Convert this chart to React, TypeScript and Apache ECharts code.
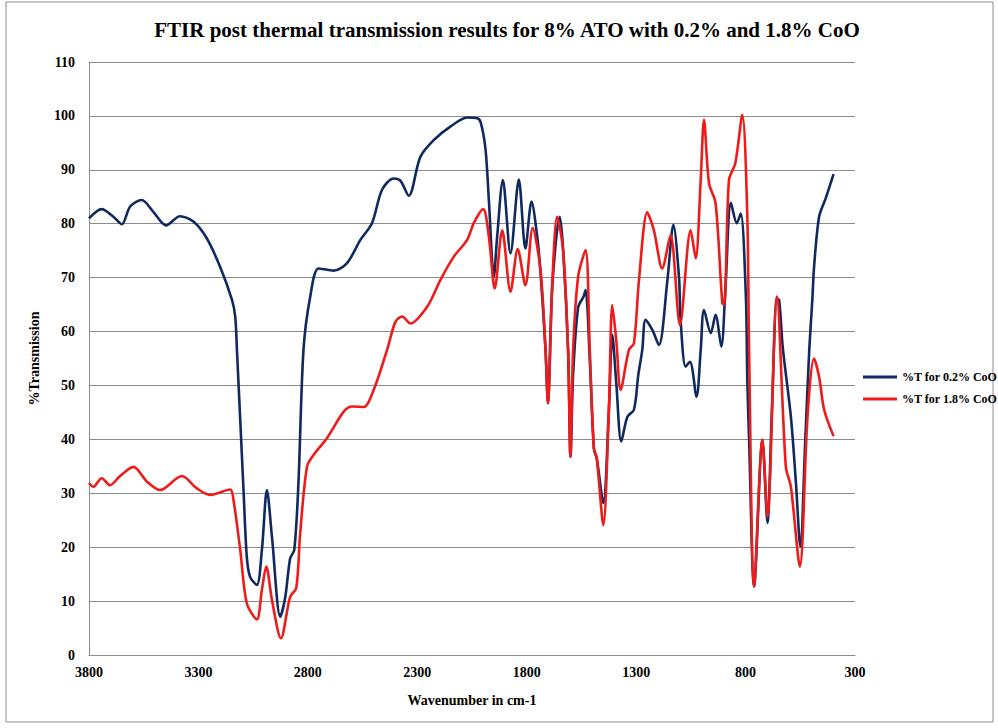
import React, { useEffect, useRef } from "react";
import * as echarts from "echarts";

const xTicks = [3800, 3300, 2800, 2300, 1800, 1300, 800, 300];
const yTicks = [0, 10, 20, 30, 40, 50, 60, 70, 80, 90, 100, 110];

const seriesNames = ["%T for 0.2% CoO", "%T for 1.8% CoO"];

// wavenumber, %T
const wnLow: number[] = [
  3800, 3742, 3689, 3650, 3612, 3559, 3506, 3448, 3384, 3323, 3262, 3201, 3147, 3132, 3124, 3094, 3079, 3064,
  3033, 3010, 2987, 2964, 2926, 2903, 2881, 2862, 2843, 2820, 2789, 2751, 2682, 2621, 2560, 2507, 2461, 2408,
  2377, 2339, 2286, 2225, 2149, 2072, 2030, 2011, 1988, 1973, 1950, 1935, 1909, 1874, 1836, 1806, 1778, 1752,
  1737, 1714, 1703, 1683, 1649, 1634, 1611, 1600, 1588, 1565, 1540, 1531, 1512, 1493, 1480, 1450, 1425, 1409,
  1390, 1368, 1340, 1310, 1290, 1272, 1257, 1226, 1196, 1157, 1130, 1104, 1097, 1074, 1054, 1024, 1005, 990,
  959, 937, 911, 891, 867, 840, 822, 799, 792, 784, 761, 723, 700, 680, 657, 647, 630, 593, 570, 550, 526, 509,
  495, 487, 464, 434, 398,
];
const tLow: number[] = [
  81.0, 82.7, 81.3, 79.9, 83.2, 84.4, 82.2, 79.7, 81.4, 80.4, 77.3, 72.0, 65.9, 62.8, 56.6, 30.6, 18.2, 14.5,
  13.0, 19.5, 30.6, 21.9, 7.1, 10.8, 17.9, 19.5, 31.9, 56.6, 66.5, 71.7, 71.3, 72.7, 77.0, 80.1, 86.3, 88.4,
  88.0, 85.2, 92.4, 95.5, 98.0, 99.7, 99.6, 98.9, 93.7, 84.4, 70.2, 77.6, 88.1, 74.5, 88.2, 75.4, 84.1, 77.6,
  71.0, 56.6, 46.7, 68.5, 81.3, 75.5, 56.6, 36.8, 52.0, 64.5, 66.5, 67.7, 55.0, 38.3, 36.5, 28.2, 45.0, 59.4,
  50.0, 39.6, 44.2, 45.5, 52.0, 56.6, 62.2, 60.3, 57.5, 69.6, 79.8, 70.0, 62.2, 53.5, 54.4, 47.9, 56.6, 64.0,
  59.7, 63.1, 57.2, 69.0, 83.9, 80.1, 81.9, 67.0, 51.0, 40.0, 12.7, 39.9, 24.5, 45.0, 66.0, 65.9, 57.0, 44.2,
  32.0, 20.1, 41.1, 56.6, 65.9, 72.0, 81.3, 84.7, 89.2,
];

const wnHigh: number[] = [
  3800, 3780, 3742, 3704, 3658, 3597, 3536, 3475, 3376, 3307, 3246, 3155, 3140, 3109, 3079, 3033, 3010, 2990,
  2964, 2923, 2881, 2853, 2835, 2804, 2774, 2713, 2637, 2598, 2545, 2499, 2438, 2400, 2369, 2332, 2255, 2194,
  2133, 2072, 2042, 1999, 1973, 1946, 1912, 1874, 1841, 1806, 1773, 1737, 1714, 1703, 1683, 1661, 1634, 1611,
  1600, 1588, 1565, 1531, 1512, 1493, 1480, 1450, 1425, 1409, 1390, 1371, 1333, 1310, 1287, 1249, 1219, 1181,
  1143, 1100, 1051, 1028, 1005, 990, 967, 937, 906, 897, 876, 847, 815, 792, 784, 761, 723, 700, 657, 616, 593,
  552, 517, 487, 464, 441, 398,
];
const tHigh: number[] = [
  31.9, 31.2, 32.8, 31.5, 33.2, 34.9, 32.2, 30.6, 33.2, 30.9, 29.7, 30.7, 28.8, 19.5, 9.6, 6.6, 12.1, 16.4,
  10.2, 3.1, 10.8, 12.4, 22.6, 34.9, 37.1, 40.2, 45.1, 46.1, 46.0, 49.2, 56.6, 61.8, 62.8, 61.5, 64.6, 69.6,
  73.9, 77.0, 80.1, 82.7, 77.6, 68.0, 78.8, 67.4, 75.3, 68.6, 79.2, 71.4, 56.6, 46.7, 69.0, 81.3, 75.1, 56.6,
  36.8, 56.6, 70.2, 75.1, 56.6, 38.3, 36.5, 24.1, 45.0, 64.9, 58.0, 49.2, 56.6, 57.8, 69.6, 82.1, 78.8, 71.7,
  77.9, 61.2, 78.8, 73.6, 88.1, 99.3, 87.5, 83.8, 65.2, 65.0, 88.1, 91.2, 100.2, 81.3, 56.6, 12.7, 39.9, 25.7,
  66.5, 34.9, 31.2, 16.4, 44.2, 55.0, 51.6, 45.5, 40.6,
];

const colors = ["#10295e", "#ee1b1b"];
const FONT = "'Liberation Serif', 'DejaVu Serif', serif";

export default function App() {
  const ref = useRef<HTMLDivElement>(null);
  useEffect(() => {
    if (!ref.current) return;
    const chart = echarts.init(ref.current, null, { renderer: "svg" });
    const lowData = wnLow.map((w, i) => [w, tLow[i]]);
    const highData = wnHigh.map((w, i) => [w, tHigh[i]]);
    chart.setOption({
      animation: false,
      backgroundColor: "#ffffff",
      graphic: [
        {
          type: "rect",
          shape: { x: 6, y: 2, width: 987, height: 720 },
          style: { fill: "none", stroke: "#8c8c8c", lineWidth: 1 },
          silent: true,
        },
        {
          type: "text",
          x: 507,
          y: 30,
          style: {
            text: "FTIR post thermal transmission results for 8% ATO with 0.2% and 1.8% CoO",
            font: `bold 21px ${FONT}`,
            fill: "#000",
            textAlign: "center",
            textVerticalAlign: "middle",
          },
        },
      ],
      grid: { left: 89, right: 143, top: 62, bottom: 73, containLabel: false },
      legend: {
        orient: "vertical",
        left: 858,
        top: 366,
        itemWidth: 34,
        itemHeight: 3,
        itemGap: 10,
        icon: "rect",
        data: seriesNames,
        textStyle: { fontFamily: FONT, fontWeight: "bold", fontSize: 12, color: "#000" },
      },
      xAxis: {
        type: "value",
        inverse: true,
        min: 300,
        max: 3800,
        interval: 500,
        name: "Wavenumber in cm-1",
        nameLocation: "middle",
        nameGap: 38,
        nameTextStyle: { fontFamily: FONT, fontWeight: "bold", fontSize: 14, color: "#000" },
        axisLine: { show: true, lineStyle: { color: "#8c8c8c", width: 1 } },
        axisTick: { show: false },
        splitLine: { show: false },
        axisLabel: {
          fontFamily: FONT,
          fontWeight: "bold",
          fontSize: 14,
          color: "#000",
          margin: 10,
          customValues: xTicks,
          formatter: (v: number) => String(v),
        },
      },
      yAxis: {
        type: "value",
        min: 0,
        max: 110,
        interval: 10,
        name: "%Transmission",
        nameLocation: "middle",
        nameGap: 48,
        nameRotate: 90,
        nameTextStyle: { fontFamily: FONT, fontWeight: "bold", fontSize: 14, color: "#000" },
        axisLine: { show: true, lineStyle: { color: "#8c8c8c", width: 1 } },
        axisTick: { show: false },
        splitLine: { show: true, lineStyle: { color: "#8c8c8c", width: 1 } },
        axisLabel: {
          fontFamily: FONT,
          fontWeight: "bold",
          fontSize: 14,
          color: "#000",
          margin: 14,
          formatter: (v: number) => (yTicks.includes(v) ? String(v) : ""),
        },
      },
      series: [
        {
          name: seriesNames[0],
          type: "line",
          data: lowData,
          smooth: 0.3,
          showSymbol: false,
          color: colors[0],
          lineStyle: { color: colors[0], width: 2.6 },
        },
        {
          name: seriesNames[1],
          type: "line",
          data: highData,
          smooth: 0.3,
          showSymbol: false,
          color: colors[1],
          lineStyle: { color: colors[1], width: 2.6 },
        },
      ],
    });
    return () => chart.dispose();
  }, []);
  return (
    <div
      ref={ref}
      style={{ position: "fixed", left: 0, top: 0, width: 998, height: 728, background: "#fff" }}
    />
  );
}
